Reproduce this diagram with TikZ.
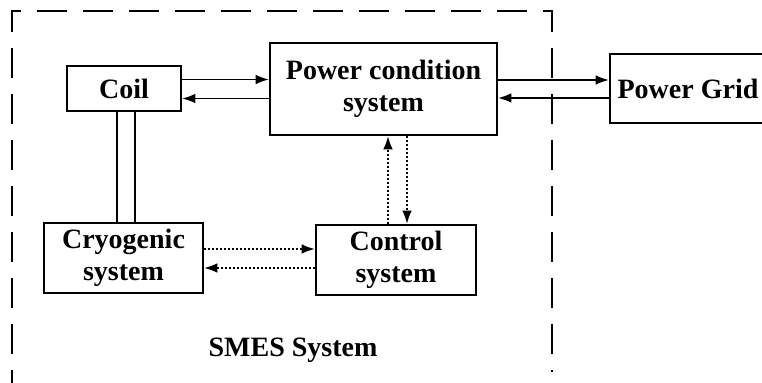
\documentclass[tikz,border=0pt]{standalone}
\usepackage{fontspec}
\setmainfont{Liberation Serif}
\usetikzlibrary{calc,arrows.meta}
\tikzset{
  block/.style={draw, line width=1.3pt, align=center, inner sep=0pt,
    font=\fontsize{14}{16}\selectfont\bfseries},
  flow/.style={line width=0.7pt, -{Latex[length=6.5pt,width=4.8pt]}},
  sigflow/.style={flow, dash pattern=on 1pt off 1pt},
  frame/.style={line width=0.7pt, dash pattern=on 15pt off 8pt}
}

\begin{document}
\begin{tikzpicture}[x=0.5pt, y=-0.5pt]
  \useasboundingbox (0,0) rectangle (762,383);

  % SMES frame
  \draw[frame] (12,400) -- (12,11) -- (552,11) -- (552,372);
  \node[font=\fontsize{14}{16}\selectfont\bfseries] (smes) at (293,350) {SMES System};

  % Blocks
  \node[block, minimum width=57pt, minimum height=22.5pt] (coil) at (124,88.5) {Coil};
  \node[block, minimum width=113.5pt, minimum height=46pt] (pcs) at (383.5,89) {Power condition\\system};
  \node[block, minimum width=78pt, minimum height=34.5pt] (grid) at (688,88.5) {Power Grid};
  \node[block, minimum width=79.5pt, minimum height=35pt] (cryo) at (123.5,258) {Cryogenic\\system};
  \node[block, minimum width=80pt, minimum height=35pt] (ctrl) at (396,260) {Control\\system};

  % Power flow
  \draw[flow] ([yshift=4.5pt]coil.east) -- ([yshift=4.5pt]coil.east -| pcs.west);
  \draw[flow] ([yshift=-4.75pt]pcs.west) -- ([yshift=-4.75pt]pcs.west -| coil.east);
  \draw[flow] ([yshift=4.5pt]pcs.east) -- ([yshift=4.5pt]pcs.east -| grid.west);
  \draw[flow] ([yshift=-4.5pt]grid.west |- pcs.east) -- ([yshift=-4.5pt]pcs.east);

  % Coil - cryogenic link
  \coordinate (la) at ([xshift=-3.5pt]coil.south);
  \coordinate (lb) at ([xshift=5.5pt]coil.south);
  \draw[line width=0.7pt] (la) -- (la |- cryo.north);
  \draw[line width=0.7pt] (lb) -- (lb |- cryo.north);

  % Control signals
  \coordinate (up) at ([xshift=2.25pt]pcs.south);
  \coordinate (dn) at ([xshift=11.75pt]pcs.south);
  \draw[sigflow] (up |- ctrl.north) -- (up);
  \draw[sigflow] (dn) -- (dn |- ctrl.north);
  \coordinate (rt) at ([yshift=4.5pt]cryo.east);
  \coordinate (lt) at ([yshift=-5pt]cryo.east);
  \draw[sigflow] (rt) -- (rt -| ctrl.west);
  \draw[sigflow] (lt -| ctrl.west) -- (lt);
\end{tikzpicture}
\end{document}
